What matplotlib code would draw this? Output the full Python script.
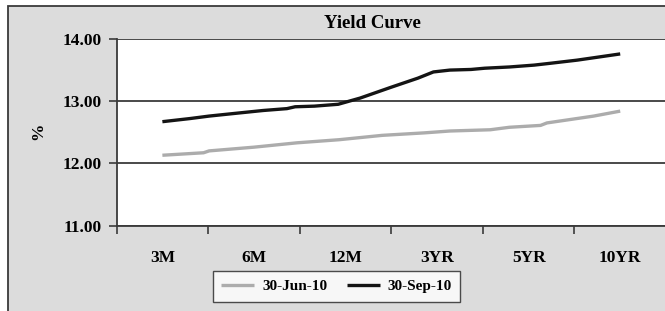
import numpy as np
import matplotlib
matplotlib.use('Agg')
import matplotlib.pyplot as plt
from matplotlib.patches import Rectangle

# tenor labels (one per category)
tenors = ['3M', '6M', '12M', '3YR', '5YR', '10YR']

# points, x in category units (0 = 3M, 5 = 10YR)
jun_x = [0.00, 0.45, 0.51, 1.00, 1.47, 1.93, 2.40, 2.86, 3.14, 3.58, 3.79, 4.13, 4.20, 4.71, 5.00]
jun_y = [12.13, 12.17, 12.20, 12.26, 12.33, 12.38, 12.45, 12.49, 12.52, 12.54, 12.58, 12.61, 12.65, 12.76, 12.84]

sep_x = [0.00, 0.30, 0.51, 0.77, 1.10, 1.36, 1.45, 1.66, 1.92, 2.16, 2.49, 2.79, 2.96, 3.14, 3.37, 3.52, 3.79, 4.06, 4.24, 4.53, 5.00]
sep_y = [12.67, 12.72, 12.76, 12.80, 12.85, 12.88, 12.91, 12.92, 12.95, 13.05, 13.22, 13.37, 13.47, 13.50, 13.51, 13.53, 13.55, 13.58, 13.61, 13.66, 13.76]

y_ticks = [11.0, 12.0, 13.0, 14.0]

plt.rcParams['font.family'] = ['Liberation Serif', 'DejaVu Serif']
plt.rcParams['font.weight'] = 'bold'

W, H = 665, 311
fig = plt.figure(figsize=(W / 100, H / 100), dpi=100, facecolor='white')

# grey chart area with its border (cut off on the right and bottom)
fig.patches.append(Rectangle((8 / W, -0.1), 1.2, 1 - 6 / H + 0.1, transform=fig.transFigure,
                             facecolor='#dcdcdc', edgecolor='#3a3a3a', linewidth=1.3, zorder=-5))

ax = fig.add_axes([116.6 / W, 1 - 225.5 / H, (666 - 116.6) / W, (225.5 - 39) / H])
ax.set_zorder(2)
ax.set_facecolor('white')

ax.plot(jun_x, jun_y, color='#acacac', linewidth=2.4, label='30-Jun-10', solid_capstyle='butt')
ax.plot(sep_x, sep_y, color='#141414', linewidth=2.4, label='30-Sep-10', solid_capstyle='butt')

ax.set_xlim(-0.5, 5.5)
ax.set_ylim(11, 14)

# tick marks between categories, labels in the middle
ax.set_xticks(np.arange(len(tenors) + 1) - 0.5)
ax.set_xticklabels([])
ax.set_xticks(np.arange(len(tenors)), minor=True)
ax.set_xticklabels(tenors, minor=True)
ax.tick_params(axis='x', which='major', length=6, width=1.2, color='#3a3a3a', direction='out')
ax.tick_params(axis='x', which='minor', length=0, pad=17.5, labelsize=12.5)

ax.set_yticks(y_ticks)
ax.set_yticklabels(['%.2f' % v for v in y_ticks])
ax.tick_params(axis='y', length=6, width=1.2, color='#3a3a3a', pad=5, labelsize=12.5)

ax.grid(axis='y', color='#3a3a3a', linewidth=1.3)
ax.set_axisbelow(True)
for s in ['top', 'right']:
    ax.spines[s].set_visible(False)
for s in ['left', 'bottom']:
    ax.spines[s].set_color('#3a3a3a')
    ax.spines[s].set_linewidth(1.3)

fig.text(38 / W, 1 - 131 / H, '%', rotation=90, ha='center', va='center', fontsize=12.5, fontweight='bold')
fig.text(372 / W, 1 - 24 / H, 'Yield Curve', ha='center', va='center', fontsize=13.5, fontweight='bold')

leg = fig.legend(loc='center', bbox_to_anchor=(336.6 / W, 1 - 286.5 / H), ncol=2, frameon=True,
                 fancybox=False, edgecolor='#222222', fontsize=11, handlelength=2.15,
                 columnspacing=1.3, handletextpad=0.5, borderpad=0.55)
leg.get_frame().set_linewidth(1.0)
leg.set_zorder(3)

fig.savefig('out.png', dpi=100, facecolor=fig.get_facecolor())
